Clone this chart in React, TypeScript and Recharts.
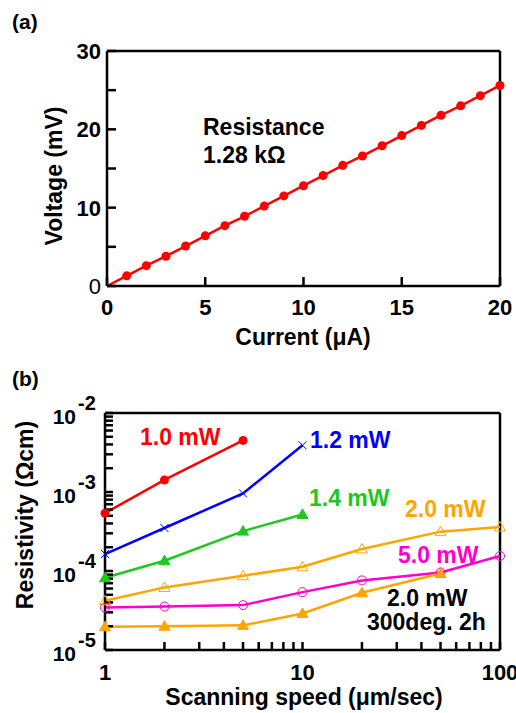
import React from "react";
import { LineChart, Line, XAxis, YAxis, ReferenceLine } from "recharts";

const FONT = "'Liberation Sans', Arial, Helvetica, sans-serif";

// (a) I-V curve
const currentUA = [0, 1, 2, 3, 4, 5, 6, 7, 8, 9, 10, 11, 12, 13, 14, 15, 16, 17, 18, 19, 20];
const voltageMV = [0, 1.3, 2.6, 3.8, 5.1, 6.4, 7.7, 8.9, 10.2, 11.5, 12.8, 14.1, 15.4, 16.6, 17.9, 19.2, 20.5, 21.8, 23.0, 24.3, 25.6];
const ivTicksX = [0, 5, 10, 15, 20];
const ivTicksY = [0, 5, 10, 15, 20, 25, 30];
const ivLabeledY = [0, 10, 20, 30];

// (b) resistivity vs scanning speed
const speed3 = [1, 2, 5];
const speed4 = [1, 2, 5, 10];
const speed6 = [1, 2, 5, 10, 20, 50];
const speed7 = [1, 2, 5, 10, 20, 50, 100];
const rho10mW = [5.4e-4, 1.42e-3, 4.5e-3];
const rho12mW = [1.64e-4, 3.5e-4, 9.6e-4, 3.9e-3];
const rho14mW = [8.2e-5, 1.35e-4, 3.2e-4, 5.2e-4];
const rho20mW = [4.2e-5, 6.2e-5, 8.7e-5, 1.13e-4, 1.9e-4, 3.15e-4, 3.6e-4];
const rho50mW = [3.45e-5, 3.55e-5, 3.7e-5, 5.4e-5, 7.6e-5, 9.6e-5, 1.55e-4];
const rho20mWAnneal = [1.97e-5, 2.0e-5, 2.05e-5, 2.9e-5, 5.3e-5, 9.3e-5];

const speedTicks = [1, 2, 3, 4, 5, 6, 7, 8, 9, 10, 20, 30, 40, 50, 60, 70, 80, 90, 100];
const rhoTicks = [
  1e-5, 2e-5, 3e-5, 4e-5, 5e-5, 6e-5, 7e-5, 8e-5, 9e-5,
  1e-4, 2e-4, 3e-4, 4e-4, 5e-4, 6e-4, 7e-4, 8e-4, 9e-4,
  1e-3, 2e-3, 3e-3, 4e-3, 5e-3, 6e-3, 7e-3, 8e-3, 9e-3,
  1e-2,
];

const zip = (xs: number[], ys: number[]) => xs.map((x, i) => ({ x, y: ys[i] }));
const isDecade = (v: number) => Math.abs(Math.log10(v) - Math.round(Math.log10(v))) < 1e-6;

const txt = { fontFamily: FONT, fontWeight: "bold" as const, fill: "#000" };
const axisLine = { stroke: "#000", strokeWidth: 2.5 };
const tickLine = { stroke: "#000", strokeWidth: 2.5 };

// ticks are drawn inward by recharts (negative tickSize); x/y below sit 8px outside the axis
function IvYTick({ x, y, payload }: any) {
  const v = payload.value;
  if (!ivLabeledY.includes(v)) return <g />;
  return (
    <text x={x + 2} y={y + 8} textAnchor="end" fontSize={22} fontFamily={FONT} fontWeight={v === 0 ? "normal" : "bold"}>
      {v}
    </text>
  );
}

function IvXTick({ x, y, payload }: any) {
  return (
    <text x={x} y={y + 21} textAnchor="middle" fontSize={22} {...txt}>
      {payload.value}
    </text>
  );
}

function LogYTick({ x, y, payload }: any) {
  const v = payload.value;
  if (!isDecade(v)) return <g />;
  return (
    <g>
      <text x={x - 21} y={y + 11} textAnchor="end" fontSize={21} {...txt}>10</text>
      <text x={x - 19} y={y - 3} textAnchor="start" fontSize={20} {...txt}>
        {String(Math.round(Math.log10(v)))}
      </text>
    </g>
  );
}

function LogXTick({ x, y, payload }: any) {
  const v = payload.value;
  if (!isDecade(v)) return <g />;
  return (
    <text x={x} y={y + 22} textAnchor="middle" fontSize={22} {...txt}>
      {v}
    </text>
  );
}

const filledCircle = (color: string) => (p: any) =>
  <circle key={p.index} cx={p.cx} cy={p.cy} r={4.5} fill={color} stroke="none" />;
const openCircle = (color: string) => (p: any) =>
  <circle key={p.index} cx={p.cx} cy={p.cy} r={4.5} fill="none" stroke={color} strokeWidth={1} />;
const cross = (color: string) => (p: any) => (
  <g key={p.index}>
    <line x1={p.cx - 4} x2={p.cx + 4} y1={p.cy - 4} y2={p.cy + 4} stroke={color} strokeWidth={1} />
    <line x1={p.cx - 4} x2={p.cx + 4} y1={p.cy + 4} y2={p.cy - 4} stroke={color} strokeWidth={1} />
  </g>
);
const triangle = (color: string, filled: boolean) => (p: any) => (
  <polygon
    key={p.index}
    points={`${p.cx},${p.cy - 5.5} ${p.cx - 5.5},${p.cy + 4} ${p.cx + 5.5},${p.cy + 4}`}
    fill={filled ? color : "none"}
    stroke={color}
    strokeWidth={1}
  />
);

const RED = "#ff0000";
const BLUE = "#0000ff";
const GREEN = "#1ec81e";
const ORANGE = "#ffa500";
const MAGENTA = "#ff00cc";

function IVChart() {
  const data = zip(currentUA, voltageMV);
  return (
    <LineChart width={516} height={360} data={data} margin={{ top: 51, right: 16, bottom: 34, left: 47 }}>
      <XAxis dataKey="x" type="number" domain={[0, 20]} ticks={ivTicksX} interval={0} axisLine={axisLine} tickLine={tickLine} tickSize={-9} tickMargin={17} height={40} tick={IvXTick} />
      <YAxis type="number" domain={[0, 30]} ticks={ivTicksY} interval={0} axisLine={axisLine} tickLine={tickLine} tickSize={-9} tickMargin={17} width={60} tick={IvYTick} />
      <ReferenceLine y={30} stroke="#000" strokeWidth={2.5} />
      <ReferenceLine x={20} stroke="#000" strokeWidth={2.5} />
      <Line
        dataKey="y"
        stroke={RED}
        strokeWidth={2.5}
        isAnimationActive={false}
        dot={(p: any) => (p.index === 0 ? <g key={p.index} /> : <circle key={p.index} cx={p.cx} cy={p.cy} r={4.5} fill={RED} />)}
      />
      <text x={12} y={29} fontSize={21} {...txt}>(a)</text>
      <text x={62} y={176} fontSize={23} textAnchor="middle" transform="rotate(-90, 62, 176)" {...txt}>Voltage (mV)</text>
      <text x={303} y={345} fontSize={23} textAnchor="middle" {...txt}>Current (μA)</text>
      <text x={203} y={135} fontSize={23} {...txt}>Resistance</text>
      <text x={203} y={163} fontSize={23} {...txt}>1.28 kΩ</text>
    </LineChart>
  );
}

function ResistivityChart() {
  const series = [
    { data: zip(speed3, rho10mW), color: RED, dot: filledCircle(RED) },
    { data: zip(speed4, rho12mW), color: BLUE, dot: cross(BLUE) },
    { data: zip(speed4, rho14mW), color: GREEN, dot: triangle(GREEN, true) },
    { data: zip(speed7, rho20mW), color: ORANGE, dot: triangle(ORANGE, false) },
    { data: zip(speed7, rho50mW), color: MAGENTA, dot: openCircle(MAGENTA) },
    { data: zip(speed6, rho20mWAnneal), color: ORANGE, dot: triangle(ORANGE, true) },
  ];
  return (
    <LineChart width={516} height={353} margin={{ top: 53, right: 16, bottom: 23, left: 45 }}>
      <XAxis dataKey="x" type="number" scale="log" domain={[1, 100]} ticks={speedTicks} interval={0} axisLine={axisLine} tickLine={tickLine} tickSize={-8} tickMargin={16} height={40} tick={LogXTick} />
      <YAxis type="number" scale="log" domain={[1e-5, 1e-2]} ticks={rhoTicks} interval={0} axisLine={axisLine} tickLine={tickLine} tickSize={-8} tickMargin={16} width={60} tick={LogYTick} />
      <ReferenceLine y={1e-2} stroke="#000" strokeWidth={2.5} />
      <ReferenceLine x={100} stroke="#000" strokeWidth={2.5} />
      {series.map((s, i) => (
        <Line key={i} data={s.data} dataKey="y" stroke={s.color} strokeWidth={2.5} dot={s.dot} isAnimationActive={false} />
      ))}
      <text x={12} y={26} fontSize={21} {...txt}>(b)</text>
      <text x={33} y={155} fontSize={23} textAnchor="middle" transform="rotate(-90, 33, 155)" {...txt}>Resistivity (Ωcm)</text>
      <text x={304} y={345} fontSize={23} textAnchor="middle" {...txt}>Scanning speed (μm/sec)</text>
      <text x={140} y={85} fontSize={23} {...txt} fill={RED}>1.0 mW</text>
      <text x={310} y={88} fontSize={23} {...txt} fill={BLUE}>1.2 mW</text>
      <text x={309} y={146} fontSize={23} {...txt} fill={GREEN}>1.4 mW</text>
      <text x={405} y={157} fontSize={23} {...txt} fill={ORANGE}>2.0 mW</text>
      <text x={398} y={203} fontSize={23} {...txt} fill={MAGENTA}>5.0 mW</text>
      <text x={387} y={246} fontSize={23} {...txt}>2.0 mW</text>
      <text x={367} y={270} fontSize={23} {...txt}>300deg. 2h</text>
    </LineChart>
  );
}

export default function App() {
  return (
    <div style={{ position: "absolute", left: 0, top: 0, width: 516, height: 713, background: "#fff", overflow: "hidden" }}>
      <IVChart />
      <ResistivityChart />
    </div>
  );
}
